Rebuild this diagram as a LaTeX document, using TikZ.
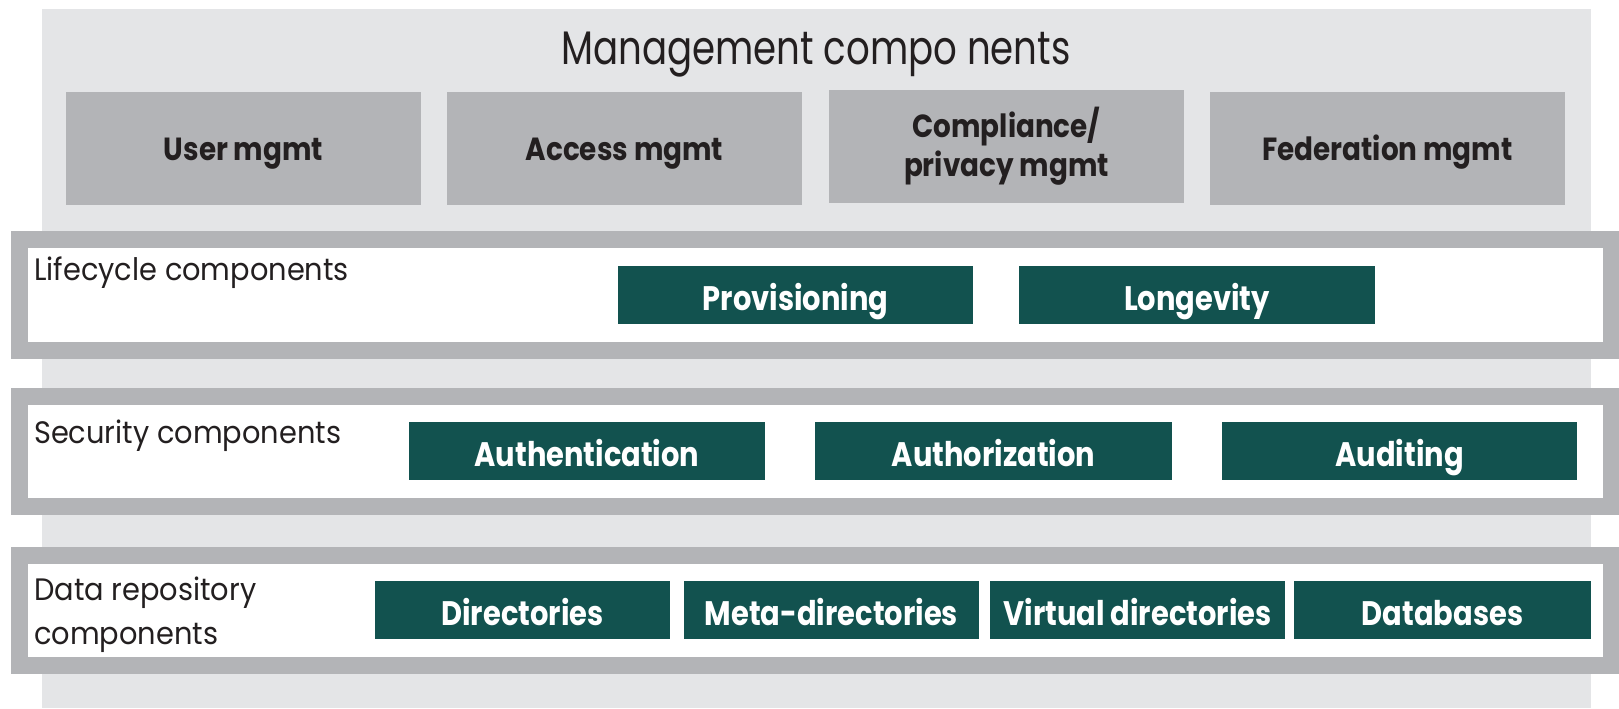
\documentclass[tikz,border=0pt]{standalone}
\usepackage{fontspec}
\setmainfont{Poppins}
\newfontfamily\ttlfont[FakeStretch=0.79]{Poppins}
\newfontfamily\lblfont[FakeStretch=0.93]{Poppins}
\newfontfamily\bxfont[FakeStretch=0.85]{Poppins}
\newfontfamily\mgfont[FakeStretch=0.87]{Poppins}
\definecolor{bgl}{HTML}{E4E5E7}
\definecolor{boxg}{HTML}{B3B4B7}
\definecolor{tealbox}{HTML}{12524F}
\definecolor{ink}{HTML}{231F20}
\begin{document}
\begin{tikzpicture}[x=1pt,y=-1pt,
  mbox/.style={fill=boxg, inner sep=0pt, outer sep=0pt, minimum height=113pt, minimum width=355pt,
    font=\mgfont\bfseries\fontsize{32}{39}\selectfont, text=ink, align=center},
  tbox/.style={fill=tealbox, inner sep=0pt, outer sep=0pt, minimum height=58pt,
    font=\bxfont\bfseries\fontsize{34}{40}\selectfont, text=white, text height=30pt, text depth=0pt},
  band/.style={draw=boxg, fill=white, line width=17pt, inner sep=0pt, outer sep=0pt},
  lbl/.style={font=\lblfont\fontsize{31}{44}\selectfont, text=ink, inner sep=0pt, anchor=base west}]
\useasboundingbox (0,0) rectangle (1619,709);
\fill[white] (0,0) rectangle (1619,709);
\node[fill=bgl, inner sep=0pt, minimum width=1549pt, minimum height=699pt] (bg) at (816.5,358.5) {};
\node[font=\ttlfont\fontsize{47}{52}\selectfont, text=ink, anchor=base, inner sep=0pt] (title) at (816,64) {Management compo nents};
% management boxes
\node[mbox, text height=24pt, text depth=0pt] (user) at (243.5,148) {User mgmt};
\node[mbox, text height=24pt, text depth=0pt] (access) at (624.5,148) {Access mgmt};
\node[mbox] (comp) at (1006.5,146.5) {Compliance/\\privacy mgmt};
\node[mbox, text height=24pt, text depth=0pt] (fed) at (1387.5,148) {Federation mgmt};
% bands
\node[band, minimum width=1591.5pt, minimum height=110.5pt] (life) at (815.25,294.75) {};
\node[band, minimum width=1591.5pt, minimum height=109.5pt] (sec) at (815.25,451.25) {};
\node[band, minimum width=1591.5pt, minimum height=109.5pt] (data) at (815.25,610.25) {};
% labels
\node[lbl] (lifelbl) at (34,280) {Lifecycle components};
\node[lbl] (seclbl) at (34,443) {Security components};
\node[lbl] (datalbl) at (34,600) {\begin{tabular}[t]{@{}l@{}}Data repository\\components\end{tabular}};
% lifecycle
\node[tbox, minimum width=355pt] (prov) at (795.5,295) {Provisioning};
\node[tbox, minimum width=356pt] (long) at (1197,295) {Longevity};
% security
\node[tbox, minimum width=356pt] (authn) at (587,451) {Authentication};
\node[tbox, minimum width=357pt] (authz) at (993.5,451) {Authorization};
\node[tbox, minimum width=355pt] (audit) at (1399.5,451) {Auditing};
% data
\node[tbox, minimum width=295pt] (dir) at (522.5,610) {Directories};
\node[tbox, minimum width=295pt] (meta) at (831.5,610) {Meta-directories};
\node[tbox, minimum width=295pt] (virt) at (1137.5,610) {Virtual directories};
\node[tbox, minimum width=297pt] (db) at (1442.5,610) {Databases};
\end{tikzpicture}
\end{document}
